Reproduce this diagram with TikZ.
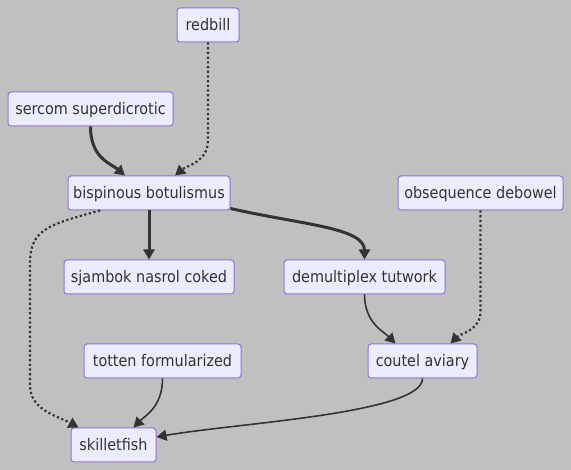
\documentclass[tikz,border=0pt]{standalone}
\usepackage{fontspec}
\setmainfont{DejaVu Sans Condensed}
\usetikzlibrary{arrows.meta}
\definecolor{bg}{HTML}{C0C0C0}
\definecolor{nodefill}{HTML}{ECECFF}
\definecolor{nodeline}{HTML}{9370DB}
\definecolor{edge}{HTML}{333333}
\tikzset{
  box/.style={draw=nodeline, fill=nodefill, line width=1pt, rounded corners=3pt,
    minimum height=34pt, inner sep=0pt, text=edge, text height=11.5pt, text depth=0pt,
    font=\fontsize{16}{19}\selectfont},
  link/.style={draw=edge, line width=1.6pt, -{Triangle[length=10pt,width=11pt]}},
  thicklink/.style={draw=edge, line width=3pt, -{Triangle[length=10pt,width=11pt]}},
  dotlink/.style={draw=edge, line width=2.2pt, dash pattern=on 2.2pt off 2.5pt, -{Triangle[length=10pt,width=11pt]}},
}
\begin{document}
\begin{tikzpicture}[x=1pt,y=-1pt]
\fill[bg] (0,0) rectangle (571,470);
\useasboundingbox (0,0) rectangle (571,470);
\node[box, minimum width=62pt] (redbill) at (208,25) {redbill};
\node[box, minimum width=165pt] (sercom) at (90.5,109) {sercom superdicrotic};
\node[box, minimum width=162pt] (bisp) at (149,193) {bispinous botulismus};
\node[box, minimum width=165pt] (obseq) at (480.5,193) {obsequence debowel};
\node[box, minimum width=170pt] (sjam) at (149,277) {sjambok nasrol coked};
\node[box, minimum width=161pt] (demult) at (364.5,277) {demultiplex tutwork};
\node[box, minimum width=157pt] (totten) at (162.5,361) {totten formularized};
\node[box, minimum width=109pt] (coutel) at (422.5,361) {coutel aviary};
\node[box, minimum width=85pt] (skillet) at (113.5,445) {skilletfish};

\draw[thicklink] (sercom.south) .. controls +(0,32) and +(-14,-12) .. ([xshift=-24pt]bisp.north);
\draw[dotlink] (redbill.south) -- (redbill.south |- 0,140) .. controls +(0,22) and +(12,-10) .. ([xshift=26pt]bisp.north);
\draw[thicklink] (bisp.south) -- (sjam.north);
\draw[thicklink] ([yshift=2pt]bisp.south east) .. controls +(70,16) and +(0,-32) .. (demult.north);
\draw[dotlink] ([xshift=-49pt]bisp.south) .. controls +(-55,15) and +(0,-35) .. (30,265) -- (30,385) .. controls +(0,25) and +(-22,-12) .. ([xshift=-35pt]skillet.north);
\draw[dotlink] (obseq.south) -- (480.5,312) .. controls +(0,18) and +(10,-10) .. ([xshift=28pt]coutel.north);
\draw[link] (demult.south) .. controls +(0,28) and +(-12,-12) .. ([xshift=-27pt]coutel.north);
\draw[link] (totten.south) .. controls +(0,28) and +(12,-12) .. ([xshift=20pt]skillet.north);
\draw[link] (coutel.south) .. controls +(0,35) and +(80,-14) .. ([yshift=8pt]skillet.east);
\end{tikzpicture}
\end{document}
